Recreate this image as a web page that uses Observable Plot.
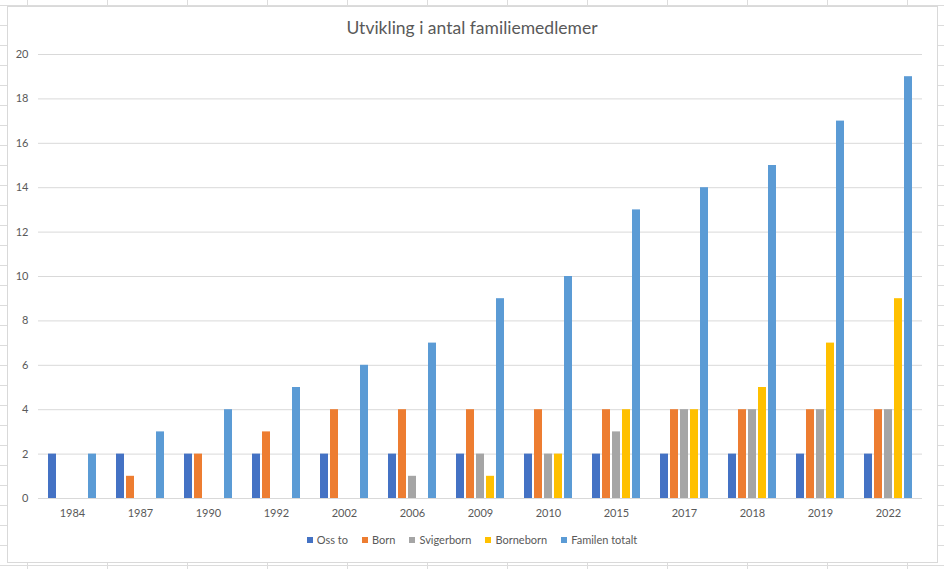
<!DOCTYPE html>
<html>
<head>
<meta charset="utf-8">
<script src="https://cdn.jsdelivr.net/npm/d3@7"></script>
<script src="https://cdn.jsdelivr.net/npm/@observablehq/plot@0.6"></script>
<style>
  html, body { margin: 0; padding: 0; }
  body {
    width: 944px; height: 569px; position: relative; overflow: hidden;
    background-color: #fff;
    background-image:
      linear-gradient(to right, #dcdcdc 1px, transparent 1px),
      linear-gradient(to bottom, #dcdcdc 1px, transparent 1px);
    background-size: 80px 20px;
    background-position: 27px 5px;
    font-family: Lato, "Open Sans", sans-serif;
  }
  #frame {
    position: absolute; left: 7px; top: 6px; width: 929px; height: 555px;
    background: #fff; border: 1px solid #d9d9d9;
  }
  #title {
    position: absolute; left: 0; width: 944px; top: 18px; text-align: center;
    font-size: 17.5px; color: #595959; line-height: 20px;
  }
  #chart { position: absolute; left: 0; top: 0; }
  #legend {
    position: absolute; left: 0; width: 944px; top: 533px;
    display: flex; justify-content: center; gap: 14px;
    font-size: 11px; color: #595959; line-height: 14px;
    box-sizing: border-box;
  }
  #legend .item { display: flex; align-items: center; gap: 4px; }
  #legend .sw { width: 6px; height: 6px; display: inline-block; }
</style>
</head>
<body>
<div id="frame"></div>
<div id="chart"></div>
<div id="title">Utvikling i antal familiemedlemer</div>
<div id="legend"></div>
<script>
const years = ["1984", "1987", "1990", "1992", "2002", "2006", "2009", "2010", "2015", "2017", "2018", "2019", "2022"];
const seriesNames = ["Oss to", "Born", "Svigerborn", "Borneborn", "Familen totalt"];
const ossTo        = [2, 2, 2, 2, 2, 2, 2, 2, 2, 2, 2, 2, 2];
const born         = [0, 1, 2, 3, 4, 4, 4, 4, 4, 4, 4, 4, 4];
const svigerborn   = [0, 0, 0, 0, 0, 1, 2, 2, 3, 4, 4, 4, 4];
const borneborn    = [0, 0, 0, 0, 0, 0, 1, 2, 4, 4, 5, 7, 9];
const familenTotalt = [2, 3, 4, 5, 6, 7, 9, 10, 13, 14, 15, 17, 19];
const yTicks = [0, 2, 4, 6, 8, 10, 12, 14, 16, 18, 20];
const colors = ["#4472C4", "#ED7D31", "#A5A5A5", "#FFC000", "#5B9BD5"];

const seriesValues = [ossTo, born, svigerborn, borneborn, familenTotalt];
const data = years.flatMap((yr, i) =>
  seriesNames.map((s, j) => ({year: yr, series: s, value: seriesValues[j][i]}))
);

const chart = Plot.plot({
  width: 944,
  height: 569,
  marginLeft: 37,
  marginRight: 21,
  marginTop: 54,
  marginBottom: 71,
  style: {background: "transparent", fontFamily: "Lato, 'Open Sans', sans-serif", fontSize: "11px", color: "#595959"},
  fx: {domain: years, padding: 0, label: null},
  x: {domain: seriesNames, axis: null, paddingInner: 0.2, paddingOuter: 0.85},
  y: {domain: [0, 20], label: null},
  color: {domain: seriesNames, range: colors},
  marks: [
    Plot.ruleY(yTicks, {stroke: "#d9d9d9", strokeWidth: 1}),
    Plot.barY(data, {fx: "year", x: "series", y: "value", fill: "series"}),
    Plot.axisY(yTicks, {tickSize: 0, tickPadding: 10, label: null, fill: "#595959", fontSize: 11}),
    Plot.axisFx({anchor: "bottom", tickSize: 0, tickPadding: 11, label: null, fill: "#595959", fontSize: 11})
  ]
});
document.getElementById("chart").appendChild(chart);

const legend = document.getElementById("legend");
seriesNames.forEach((s, j) => {
  const item = document.createElement("div");
  item.className = "item";
  const sw = document.createElement("span");
  sw.className = "sw";
  sw.style.background = colors[j];
  const label = document.createElement("span");
  label.textContent = s;
  item.appendChild(sw);
  item.appendChild(label);
  legend.appendChild(item);
});
</script>
</body>
</html>
